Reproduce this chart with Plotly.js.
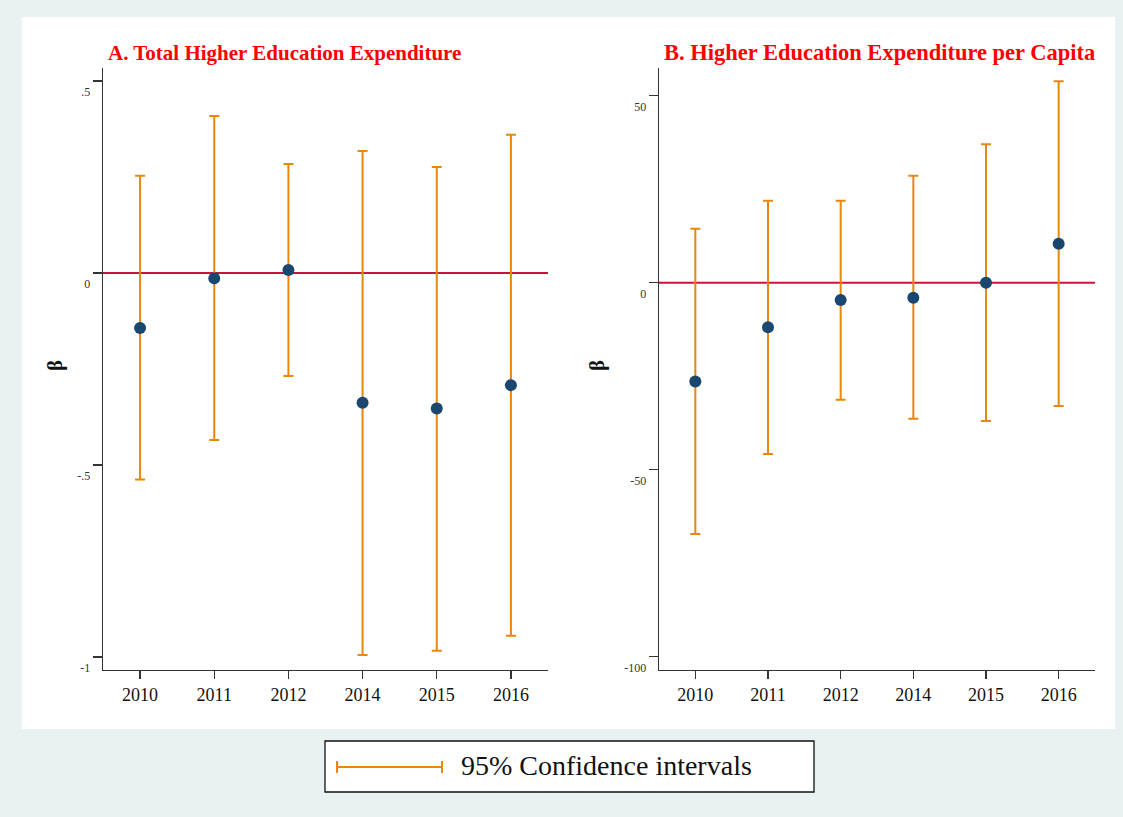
<!DOCTYPE html>
<html>
<head>
<meta charset="utf-8">
<script src="https://cdn.plot.ly/plotly-3.0.1.min.js"></script>
<style>html,body{margin:0;padding:0;background:#e9f1f3;}#chart{width:1123px;height:817px;}</style>
</head>
<body>
<div id="chart"></div>
<script>
// ---- data ----
var years = ["2010", "2011", "2012", "2014", "2015", "2016"];

// Panel A: Total Higher Education Expenditure
var aCoef = [-0.143, -0.014, 0.008, -0.338, -0.353, -0.292];
var aLow  = [-0.538, -0.435, -0.268, -0.995, -0.984, -0.945];
var aHigh = [0.253, 0.409, 0.284, 0.318, 0.276, 0.360];

// Panel B: Higher Education Expenditure per Capita
var bCoef = [-26.4, -11.9, -4.6, -4.0, 0.0, 10.4];
var bLow  = [-67.2, -45.8, -31.3, -36.4, -37.0, -33.0];
var bHigh = [14.4, 21.9, 21.9, 28.6, 37.0, 53.9];

var yTicksA = [0.5, 0, -0.5, -1];
var yLabelsA = [".5", "0", "-.5", "-1"];
var yTicksB = [50, 0, -50, -100];
var yLabelsB = ["50", "0", "-50", "-100"];

var titleA = "A. Total Higher Education Expenditure";
var titleB = "B. Higher Education Expenditure per Capita";
var legendLabel = "95% Confidence intervals";
var yTitle = "β";

// ---- styling ----
var W = 1123, H = 817;
function px(x) { return x / W; }
function py(y) { return (H - y) / H; }
var ORANGE = "#e8870e";
var NAVY = "#1a476f";
var RED = "#c8143c";
var SERIF = "Liberation Serif, Times New Roman, serif";

function diff(a, b) { return a.map(function (v, i) { return v - b[i]; }); }

function ciTrace(coef, lo, hi, xa, ya) {
  return {
    type: "scatter", mode: "markers", x: years, y: coef, xaxis: xa, yaxis: ya,
    marker: { color: NAVY, size: 12 },
    error_y: { type: "data", symmetric: false, array: diff(hi, coef), arrayminus: diff(coef, lo),
               color: ORANGE, thickness: 2, width: 5 },
    showlegend: false, hoverinfo: "x+y"
  };
}

var traces = [ciTrace(aCoef, aLow, aHigh, "x", "y"), ciTrace(bCoef, bLow, bHigh, "x2", "y2")];

var yDom = [py(670), py(68)];
function xAxis(dom, anchor) {
  return {
    domain: dom, anchor: anchor, type: "category", range: [-0.5, 5.5],
    showline: true, linecolor: "#333", linewidth: 1.3, mirror: false,
    ticks: "outside", ticklen: 8, tickwidth: 1.3, tickcolor: "#333",
    showgrid: false, zeroline: false, fixedrange: true,
    tickfont: { family: SERIF, size: 18, color: "#111" }
  };
}
function yAxis(range, vals, labels, anchor) {
  return {
    domain: yDom, anchor: anchor, range: range,
    tickvals: vals, ticktext: labels,
    showline: true, linecolor: "#333", linewidth: 1.3, mirror: false,
    ticks: "outside", ticklen: 9, tickwidth: 1.3, tickcolor: "#333",
    ticklabelshift: 11,
    showgrid: false, zeroline: false, fixedrange: true,
    tickfont: { family: SERIF, size: 12, color: "#333" }
  };
}

var layout = {
  width: W, height: H,
  margin: { l: 0, r: 0, t: 0, b: 0 },
  paper_bgcolor: "#e9f1f3",
  plot_bgcolor: "rgba(0,0,0,0)",
  showlegend: false,
  xaxis: xAxis([px(103), px(548)], "y"),
  yaxis: yAxis([-1.0339, 0.5339], yTicksA, yLabelsA, "x"),
  xaxis2: xAxis([px(659), px(1095)], "y2"),
  yaxis2: yAxis([-103.56, 57.41], yTicksB, yLabelsB, "x2"),
  shapes: [
    // white graph region
    { type: "rect", xref: "paper", yref: "paper", x0: px(22), x1: px(1115), y0: py(729), y1: py(17),
      fillcolor: "#ffffff", line: { width: 0 }, layer: "below" },
    // zero reference lines
    { type: "line", xref: "x domain", yref: "y", x0: 0, x1: 1, y0: 0, y1: 0,
      line: { color: RED, width: 2 }, layer: "below" },
    { type: "line", xref: "x2 domain", yref: "y2", x0: 0, x1: 1, y0: 0, y1: 0,
      line: { color: RED, width: 2 }, layer: "below" },
    // legend box
    { type: "rect", xref: "paper", yref: "paper", x0: px(325), x1: px(814), y0: py(792), y1: py(741),
      fillcolor: "#ffffff", line: { color: "#111", width: 1.3 } },
    // legend key
    { type: "line", xref: "paper", yref: "paper", x0: px(337), x1: px(442), y0: py(767), y1: py(767),
      line: { color: ORANGE, width: 2 } },
    { type: "line", xref: "paper", yref: "paper", x0: px(337), x1: px(337), y0: py(761), y1: py(773),
      line: { color: ORANGE, width: 2 } },
    { type: "line", xref: "paper", yref: "paper", x0: px(442), x1: px(442), y0: py(761), y1: py(773),
      line: { color: ORANGE, width: 2 } }
  ],
  annotations: [
    { text: "<b>" + titleA + "</b>", xref: "paper", yref: "paper", x: px(106), y: py(53),
      xanchor: "left", yanchor: "middle", showarrow: false,
      font: { family: SERIF, size: 21, color: "#ff0000" } },
    { text: "<b>" + titleB + "</b>", xref: "paper", yref: "paper", x: px(662), y: py(53),
      xanchor: "left", yanchor: "middle", showarrow: false,
      font: { family: SERIF, size: 22.5, color: "#ff0000" } },
    { text: "<b>" + yTitle + "</b>", xref: "paper", yref: "paper", x: px(55), y: py(366),
      xanchor: "center", yanchor: "middle", showarrow: false, textangle: -90,
      font: { family: SERIF, size: 21, color: "#111" } },
    { text: "<b>" + yTitle + "</b>", xref: "paper", yref: "paper", x: px(597), y: py(366),
      xanchor: "center", yanchor: "middle", showarrow: false, textangle: -90,
      font: { family: SERIF, size: 21, color: "#111" } },
    { text: legendLabel, xref: "paper", yref: "paper", x: px(459), y: py(765),
      xanchor: "left", yanchor: "middle", showarrow: false,
      font: { family: SERIF, size: 28, color: "#111" } }
  ]
};

Plotly.newPlot("chart", traces, layout, { displayModeBar: false, staticPlot: true });
</script>
</body>
</html>
